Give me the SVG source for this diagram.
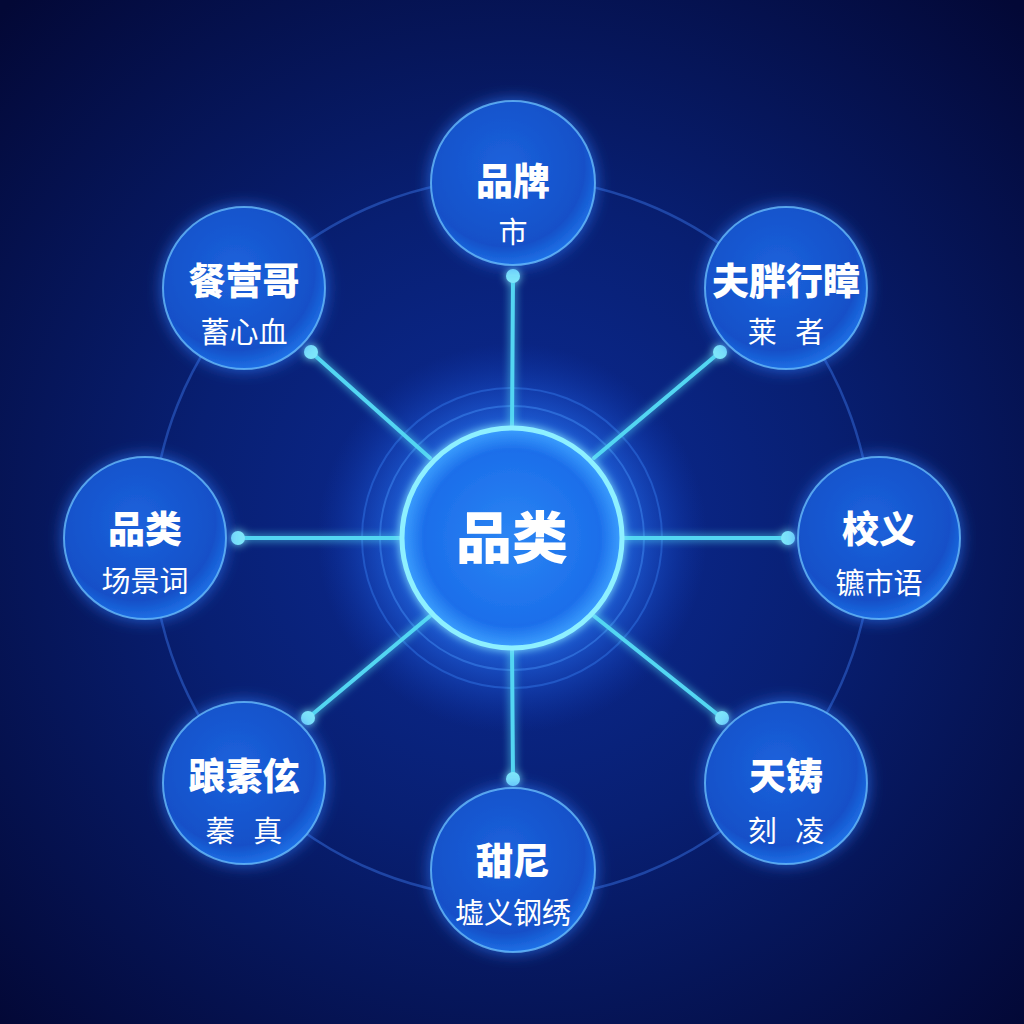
<svg xmlns="http://www.w3.org/2000/svg" width="1024" height="1024" viewBox="0 0 1024 1024">
<defs>
<radialGradient id="bg" cx="512" cy="520" r="720" gradientUnits="userSpaceOnUse">
<stop offset="0" stop-color="#0c2c98"/>
<stop offset="0.45" stop-color="#081f72"/>
<stop offset="1" stop-color="#030836"/>
</radialGradient>
<radialGradient id="nodeFill" cx="0.45" cy="0.4" r="0.65">
<stop offset="0" stop-color="#1d62dc"/>
<stop offset="0.75" stop-color="#1250c8"/>
<stop offset="0.93" stop-color="#1f70e6"/>
<stop offset="1" stop-color="#66c4ff"/>
</radialGradient>
<radialGradient id="centerFill" cx="0.5" cy="0.5" r="0.5">
<stop offset="0" stop-color="#2b86f4"/>
<stop offset="0.8" stop-color="#1c6eea"/>
<stop offset="1" stop-color="#3ca0ff"/>
</radialGradient>
<radialGradient id="halo" cx="512" cy="538" r="195" gradientUnits="userSpaceOnUse">
<stop offset="0.5" stop-color="#2a80ff" stop-opacity="0.8"/>
<stop offset="0.75" stop-color="#1f60e4" stop-opacity="0.4"/>
<stop offset="1" stop-color="#1040c0" stop-opacity="0"/>
</radialGradient>
<filter id="glow" x="-50%" y="-50%" width="200%" height="200%">
<feGaussianBlur stdDeviation="4" result="b"/>
<feMerge><feMergeNode in="b"/><feMergeNode in="SourceGraphic"/></feMerge>
</filter>
<filter id="nodeGlow" x="-40%" y="-40%" width="180%" height="180%">
<feGaussianBlur in="SourceAlpha" stdDeviation="8" result="b"/>
<feFlood flood-color="#2f7dff" flood-opacity="0.75"/>
<feComposite in2="b" operator="in" result="g"/>
<feMerge><feMergeNode in="g"/><feMergeNode in="SourceGraphic"/></feMerge>
</filter>
</defs>
<style>
.node{fill:url(#nodeFill);stroke:#6cc2ff;stroke-width:2;stroke-opacity:0.75;filter:url(#nodeGlow)}
.title{font-family:"Noto Sans CJK SC","Noto Sans",sans-serif;font-weight:900;font-size:37px;fill:#ffffff;text-anchor:middle}
.sub{font-family:"Noto Sans CJK SC","Noto Sans",sans-serif;font-weight:400;font-size:29px;fill:#ffffff;text-anchor:middle;word-spacing:12px}
.ctitle{font-family:"Noto Sans CJK SC","Noto Sans",sans-serif;font-weight:900;font-size:56px;fill:#ffffff;text-anchor:middle}
.spoke{stroke:#52d6f2;stroke-width:4;stroke-linecap:round}
.dot{fill:#7fe6fa}
</style>
<rect width="1024" height="1024" fill="url(#bg)"/>
<circle cx="512" cy="538" r="360" fill="none" stroke="#2e60cc" stroke-width="2.5" stroke-opacity="0.6"/>
<circle cx="512" cy="538" r="195" fill="url(#halo)"/>
<circle cx="512" cy="538" r="150" fill="none" stroke="#3e8cff" stroke-width="2" stroke-opacity="0.35"/>
<circle cx="512" cy="538" r="132" fill="none" stroke="#4c9cff" stroke-width="2" stroke-opacity="0.4"/>
<g id="connectors" filter="url(#glow)">
<line class="spoke" x1="512" y1="428" x2="513" y2="276"/>
<line class="spoke" x1="430" y1="458" x2="311" y2="352"/>
<line class="spoke" x1="594" y1="458" x2="720" y2="352"/>
<line class="spoke" x1="402" y1="538" x2="238" y2="538"/>
<line class="spoke" x1="622" y1="538" x2="788" y2="538"/>
<line class="spoke" x1="430" y1="616" x2="308" y2="718"/>
<line class="spoke" x1="594" y1="616" x2="722" y2="718"/>
<line class="spoke" x1="512" y1="648" x2="513" y2="779"/>
<circle class="dot" cx="513" cy="276" r="7"/>
<circle class="dot" cx="311" cy="352" r="7"/>
<circle class="dot" cx="720" cy="352" r="7"/>
<circle class="dot" cx="238" cy="538" r="7"/>
<circle class="dot" cx="788" cy="538" r="7"/>
<circle class="dot" cx="308" cy="718" r="7"/>
<circle class="dot" cx="722" cy="718" r="7"/>
<circle class="dot" cx="513" cy="779" r="7"/>
</g>
<g id="center">
<circle cx="512" cy="538" r="110" fill="url(#centerFill)" stroke="#8ef0ff" stroke-width="5" filter="url(#glow)"/>
<text class="ctitle" x="512" y="558">品类</text>
</g>
<g id="node-top">
<circle class="node" cx="513" cy="183" r="82"/>
<text class="title" x="513" y="195">品牌</text>
<text class="sub" x="513" y="243">市</text>
</g>
<g id="node-top-left">
<circle class="node" cx="244" cy="288" r="81"/>
<text class="title" x="244" y="295">餐营哥</text>
<text class="sub" x="244" y="343">蓄心血</text>
</g>
<g id="node-top-right">
<circle class="node" cx="786" cy="288" r="81"/>
<text class="title" x="786" y="295">夫胖行瞕</text>
<text class="sub" x="786" y="343">莱 者</text>
</g>
<g id="node-left">
<circle class="node" cx="145" cy="538" r="81"/>
<text class="title" x="145" y="543">品类</text>
<text class="sub" x="145" y="592">场景词</text>
</g>
<g id="node-right">
<circle class="node" cx="879" cy="538" r="81"/>
<text class="title" x="879" y="543">校义</text>
<text class="sub" x="879" y="594">镳市语</text>
</g>
<g id="node-bottom-left">
<circle class="node" cx="244" cy="783" r="81"/>
<text class="title" x="244" y="790">踉素伭</text>
<text class="sub" x="244" y="842">蓁 真</text>
</g>
<g id="node-bottom-right">
<circle class="node" cx="786" cy="783" r="81"/>
<text class="title" x="786" y="790">天铸</text>
<text class="sub" x="786" y="842">刻 凌</text>
</g>
<g id="node-bottom">
<circle class="node" cx="513" cy="870" r="82"/>
<text class="title" x="513" y="875">甜尼</text>
<text class="sub" x="513" y="924">墟义钢绣</text>
</g>
</svg>
